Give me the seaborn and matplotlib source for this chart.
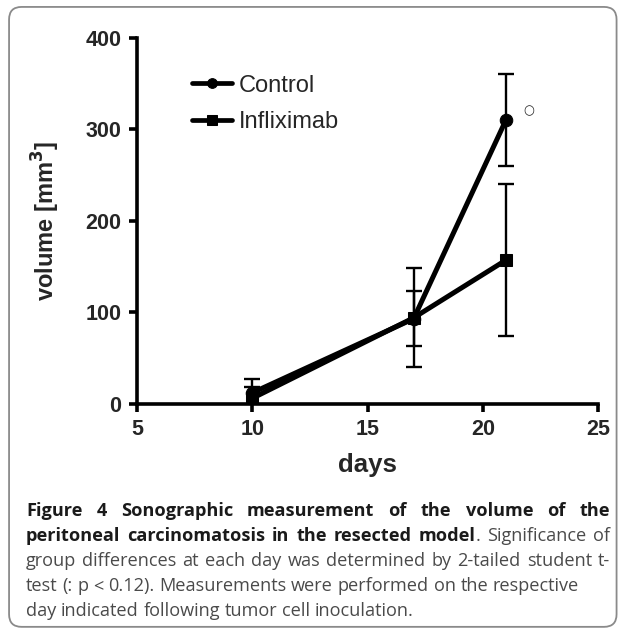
import numpy as np
import pandas as pd
import seaborn as sns
import matplotlib.pyplot as plt
from matplotlib.patches import FancyBboxPatch

days = [10, 17, 21]
control = [12, 93, 310]
control_err = [15, 30, 50]
inflix = [6, 94, 157]
inflix_err = [12, 54, 83]

caption = [
    [("Figure 4 Sonographic measurement of the volume of the", "bold")],
    [("peritoneal carcinomatosis in the resected model", "bold"), (". Significance of", "normal")],
    [("group differences at each day was determined by 2-tailed student t-", "normal")],
    [("test (: p < 0.12). Measurements were performed on the respective", "normal")],
    [("day indicated following tumor cell inoculation.", "normal")],
]
justify = [True, True, True, False, False]

sns.set_theme(style="ticks")
plt.rcParams['font.family'] = ['Liberation Sans', 'DejaVu Sans']

df = pd.DataFrame({
    "days": days * 2,
    "volume": control + inflix,
    "group": ["Control"] * 3 + ["Infliximab"] * 3,
})

fig = plt.figure(figsize=(6.25, 6.3), dpi=100)
ax = fig.add_axes([0.219, 0.359, 0.738, 0.581])

for g, vals, errs in [("Control", control, control_err), ("Infliximab", inflix, inflix_err)]:
    ax.errorbar(days, vals, yerr=errs, fmt="none", ecolor="black", elinewidth=1.7,
                capsize=6, capthick=1.7, zorder=2)

sns.lineplot(data=df, x="days", y="volume", hue="group", style="group",
             markers={"Control": "o", "Infliximab": "s"}, dashes=False,
             palette={"Control": "black", "Infliximab": "black"},
             linewidth=3.6, markersize=9, markeredgecolor="black", ax=ax, zorder=3)

# significance mark next to day 21
ax.text(22, 320, "\u25cb", fontsize=9, ha="center", va="center", family="DejaVu Sans")

ax.set_xlim(5, 25)
ax.set_ylim(0, 400)
ax.set_xticks([5, 10, 15, 20, 25])
ax.set_yticks([0, 100, 200, 300, 400])
for s in ["top", "right"]:
    ax.spines[s].set_visible(False)
for s in ["left", "bottom"]:
    ax.spines[s].set_linewidth(2.6)
    ax.spines[s].set_color("black")
ax.tick_params(width=2.6, length=6, color="black", labelsize=15.5, pad=5)
for lab in ax.get_xticklabels() + ax.get_yticklabels():
    lab.set_fontweight("bold")
ax.set_xlabel("days", fontsize=18.5, fontweight="bold", labelpad=9)
ax.set_ylabel("volume [mm$^\\mathbf{3}$]", fontsize=17, fontweight="bold", labelpad=17)

leg = ax.legend(loc="upper left", bbox_to_anchor=(0.098, 0.925), frameon=False,
                fontsize=17, handlelength=1.7, handletextpad=0.3, labelspacing=0.62,
                borderaxespad=0)
for h in leg.legend_handles:
    h.set_linewidth(3.4)
    h.set_markersize(7)

# border
fig.patches.append(FancyBboxPatch((0.0145, 0.005), 0.972, 0.984,
                                  boxstyle="round,pad=0,rounding_size=0.02",
                                  transform=fig.transFigure, fill=False,
                                  edgecolor="#8a8a8a", linewidth=1.3))

# caption, justified like the journal layout
renderer = fig.canvas.get_renderer()
x0, x1 = 26, 610
ys = [516, 541, 566, 591, 616]
cap_font = ['Open Sans', 'DejaVu Sans']
cap_size = 13.1
for line, jus, y in zip(caption, justify, ys):
    words = []
    for chunk, weight in line:
        parts = chunk.split(" ")
        for i, p in enumerate(parts):
            if p == "":
                continue
            glue = (i == 0 and len(words) > 0)
            words.append((p, weight, glue))
    objs = []
    for w, weight, glue in words:
        t = fig.text(0, 0, w, fontsize=cap_size, fontweight=weight, family=cap_font,
                     color="#4a4a4a" if weight == "normal" else "#1a1a1a",
                     ha="left", va="baseline", transform=None)
        objs.append((t, glue))
    widths = [t.get_window_extent(renderer).width for t, _ in objs]
    n_gaps = sum(1 for _, g in objs[1:] if not g)
    if jus and n_gaps:
        gap = (x1 - x0 - sum(widths)) / n_gaps
    else:
        gap = cap_size * 0.26 * 100 / 72
    x = x0
    for k, ((t, glue), wdt) in enumerate(zip(objs, widths)):
        if k > 0 and not glue:
            x += gap
        t.set_position((x, 630 - y))
        x += wdt

fig.savefig("out.png", dpi=100)
